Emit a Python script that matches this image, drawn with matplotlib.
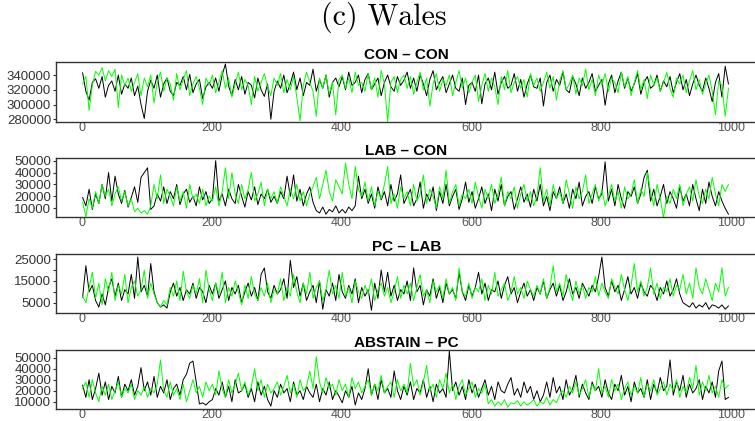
import numpy as np
import matplotlib
matplotlib.use('Agg')
from matplotlib import pyplot as plt

# trace values, in thousands, one value every 5 iterations
iterations = np.arange(1, 1001, 5)

con_con_black_k = [
    343, 318, 306, 330, 335, 322, 338, 310, 326, 332, 318, 340, 314, 328, 322, 336, 312, 325, 300, 281,
    318, 333, 322, 340, 310, 328, 336, 318, 312, 330, 326, 338, 320, 341, 316, 328, 334, 308, 324, 330,
    322, 336, 318, 340, 355, 325, 312, 334, 320, 338, 314, 330, 326, 309, 336, 320, 311, 328, 280, 318,
    332, 322, 340, 316, 328, 344, 320, 336, 312, 330, 326, 348, 318, 334, 322, 340, 310, 330, 336, 324,
    338, 320, 344, 326, 330, 340, 316, 334, 342, 320, 328, 336, 312, 330, 340, 324, 318, 338, 326, 333,
    344, 322, 336, 318, 340, 328, 312, 334, 346, 320, 330, 338, 316, 328, 340, 322, 318, 336, 300, 326,
    330, 318, 340, 301, 328, 336, 320, 344, 314, 330, 338, 322, 326, 342, 318, 334, 310, 328, 340, 324,
    322, 336, 298, 330, 340, 318, 334, 326, 344, 320, 316, 338, 328, 312, 336, 322, 330, 342, 318, 326,
    334, 299, 328, 340, 316, 332, 344, 322, 336, 318, 328, 342, 314, 330, 338, 322, 326, 340, 318, 332,
    324, 338, 316, 330, 342, 320, 334, 312, 328, 340, 326, 318, 336, 322, 304, 330, 342, 310, 352, 328]
con_con_green_k = [
    328, 338, 292, 326, 345, 340, 350, 332, 346, 338, 348, 296, 340, 326, 336, 318, 330, 342, 312, 336,
    324, 340, 302, 330, 344, 318, 336, 328, 306, 342, 320, 334, 346, 312, 328, 338, 322, 300, 336, 326,
    340, 316, 330, 346, 322, 336, 310, 328, 344, 320, 334, 326, 300, 338, 318, 330, 342, 324, 312, 336,
    326, 342, 316, 334, 320, 338, 310, 278, 326, 344, 330, 318, 284, 336, 322, 340, 314, 330, 286, 334,
    340, 322, 336, 316, 344, 326, 330, 318, 342, 320, 336, 310, 346, 328, 277, 330, 338, 316, 334, 340,
    322, 338, 314, 330, 344, 320, 336, 298, 328, 342, 318, 334, 326, 340, 312, 330, 346, 322, 336, 316,
    330, 340, 304, 326, 342, 318, 336, 324, 300, 338, 320, 346, 316, 330, 338, 322, 334, 310, 342, 326,
    336, 318, 330, 344, 322, 338, 306, 332, 346, 320, 328, 340, 314, 336, 326, 348, 320, 334, 312, 340,
    326, 342, 318, 336, 330, 316, 344, 324, 338, 312, 330, 346, 320, 334, 308, 340, 326, 336, 318, 330,
    344, 322, 310, 336, 328, 340, 316, 332, 346, 320, 334, 314, 328, 340, 318, 286, 332, 326, 284, 322]

lab_con_black_k = [
    19, 12, 26, 9, 22, 14, 30, 18, 40, 16, 37, 22, 14, 25, 11, 19, 28, 15, 36, 40,
    44, 9, 12, 22, 16, 28, 14, 24, 18, 30, 13, 22, 26, 15, 20, 12, 28, 17, 24, 14,
    18, 50, 16, 22, 12, 26, 18, 14, 30, 20, 11, 24, 17, 28, 13, 22, 18, 26, 15, 20,
    14, 24, 18, 37, 20, 38, 16, 26, 12, 22, 28, 15, 8, 6, 11, 5, 9, 7, 12, 6,
    9, 6, 11, 8, 12, 37, 18, 26, 14, 22, 10, 28, 17, 24, 12, 30, 16, 22, 38, 14,
    20, 26, 12, 18, 32, 10, 22, 16, 28, 8, 24, 14, 30, 12, 20, 26, 9, 18, 32, 15,
    24, 10, 18, 28, 14, 22, 8, 26, 16, 30, 12, 20, 24, 9, 18, 28, 15, 22, 11, 26,
    16, 30, 12, 20, 8, 24, 18, 28, 14, 22, 10, 26, 18, 32, 12, 20, 24, 14, 28, 18,
    22, 49, 16, 26, 12, 30, 18, 10, 24, 20, 28, 14, 22, 36, 42, 16, 26, 12, 20, 30,
    14, 24, 18, 10, 28, 16, 22, 12, 30, 18, 8, 26, 14, 32, 20, 12, 24, 16, 10, 5]
lab_con_green_k = [
    15, 3, 18, 10, 24, 14, 30, 20, 26, 12, 22, 28, 16, 24, 12, 18, 7, 10, 6, 8,
    5, 12, 30, 18, 38, 14, 26, 20, 12, 28, 16, 24, 10, 30, 18, 22, 14, 26, 12, 20,
    16, 28, 12, 24, 44, 18, 40, 22, 14, 30, 18, 26, 40, 16, 22, 32, 12, 26, 18, 24,
    14, 28, 20, 12, 26, 18, 30, 16, 24, 12, 22, 28, 36, 18, 30, 42, 24, 16, 34, 28,
    22, 48, 30, 18, 45, 26, 20, 32, 16, 28, 12, 24, 18, 30, 45, 14, 22, 10, 28, 18,
    24, 12, 30, 16, 22, 38, 14, 26, 20, 10, 28, 18, 42, 14, 24, 30, 12, 22, 18, 26,
    14, 32, 20, 10, 26, 18, 30, 14, 22, 36, 12, 24, 18, 28, 10, 22, 30, 16, 24, 12,
    20, 44, 16, 26, 12, 30, 18, 24, 14, 34, 22, 10, 28, 18, 24, 38, 14, 22, 30, 16,
    26, 12, 20, 30, 16, 24, 10, 28, 18, 22, 34, 14, 26, 20, 40, 24, 12, 30, 18, 2,
    20, 14, 26, 18, 30, 12, 22, 28, 16, 34, 20, 14, 26, 18, 36, 22, 12, 30, 24, 30]

pc_lab_black_k = [
    7.5, 22, 10, 13, 6, 3, 9, 4, 12, 16, 8, 14, 6, 11, 9, 18, 7, 26, 10, 13,
    8, 23, 10, 5, 3, 4, 2.5, 10, 14, 8, 12, 6, 11, 9, 14, 7, 12, 10, 5, 13,
    9, 14, 7, 11, 15, 6, 12, 9, 13, 5, 10, 14, 8, 12, 6, 18, 21, 10, 7, 13,
    9, 11, 16, 7, 24.5, 12, 17, 8, 14, 6, 10, 13, 5, 15, 2, 11, 8, 14, 6, 18,
    10, 7, 13, 9, 16, 5, 12, 8, 11, 1.5, 14, 7, 20, 10, 19, 8, 13, 6, 11, 9,
    15, 6, 21, 10, 13, 4, 11, 8, 16, 7, 12, 5, 14, 9, 11, 7, 19, 10, 6, 13,
    8, 12, 19, 9, 14, 6, 11, 10, 15, 7, 13, 17, 9, 12, 5, 10, 14, 8, 11, 6,
    12, 9, 15, 7, 11, 14, 8, 13, 6, 10, 16, 9, 12, 7, 14, 11, 8, 13, 10, 17,
    26, 12, 8, 15, 10, 13, 6, 11, 17, 9, 12, 7, 14, 10, 8, 13, 11, 6, 12, 9,
    15, 8, 11, 16, 9, 5, 4, 3, 5, 2.5, 4, 3, 5, 2, 4, 3.5, 2.5, 4, 2, 3.5]
pc_lab_green_k = [
    8, 5, 12, 19, 7, 14, 4, 16, 10, 19, 6, 13, 9, 18, 5, 12, 15, 8, 11, 20,
    7, 14, 9, 5, 3, 6, 4, 12, 8, 15, 6, 19.5, 10, 7, 13, 9, 16, 5, 20, 11,
    6, 14, 9, 19, 5, 12, 8, 15, 10, 4, 13, 7, 17, 9, 6, 12, 8, 14, 5, 11,
    9, 16, 6, 12, 8, 18, 10, 5, 14, 9, 19, 7, 12, 15, 6, 11, 20, 9, 13, 7,
    19, 8, 12, 5, 15, 10, 7, 13, 9, 16, 6, 11, 14, 8, 12, 5, 10, 17, 7, 13,
    9, 14, 6, 12, 18, 8, 11, 5, 15, 10, 13, 7, 16, 9, 12, 6, 21, 10, 8, 14,
    7, 12, 10, 16, 6, 13, 9, 19, 8, 11, 14, 6, 10, 17, 9, 12, 7, 15, 11, 8,
    13, 9, 16, 7, 12, 22, 10, 14, 8, 18, 11, 6, 15, 9, 13, 7, 12, 10, 17, 8,
    14, 10, 7, 16, 12, 9, 18, 11, 6, 13, 23, 10, 15, 8, 12, 21, 9, 14, 7, 12,
    10, 16, 8, 13, 11, 18, 9, 14, 7, 21, 12, 9, 16, 11, 6, 14, 10, 21, 8, 12]

abstain_pc_black_k = [
    25, 14, 30, 12, 22, 36, 16, 28, 12, 24, 18, 33, 14, 26, 20, 30, 16, 24, 41, 20,
    28, 16, 33, 14, 24, 18, 30, 12, 22, 26, 16, 30, 35, 45, 47, 28, 8, 9, 7, 10,
    12, 22, 16, 28, 14, 24, 10, 30, 18, 20, 26, 14, 22, 10, 28, 16, 24, 12, 6, 20,
    14, 26, 18, 22, 10, 28, 16, 20, 12, 24, 18, 14, 26, 10, 22, 16, 28, 12, 20, 15,
    9, 20, 14, 24, 7, 18, 12, 22, 40, 16, 26, 12, 30, 18, 22, 14, 38, 20, 12, 24,
    16, 28, 12, 22, 18, 30, 14, 24, 10, 26, 18, 22, 14, 56, 20, 28, 16, 24, 12, 30,
    18, 26, 14, 22, 30, 16, 24, 12, 28, 20, 18, 26, 32, 16, 22, 14, 28, 18, 24, 12,
    20, 10, 16, 28, 14, 32, 18, 24, 12, 30, 16, 22, 34, 14, 26, 18, 12, 28, 20, 24,
    14, 30, 18, 12, 26, 20, 34, 16, 24, 10, 28, 18, 22, 14, 30, 12, 26, 18, 32, 20,
    24, 48, 16, 28, 20, 34, 14, 26, 18, 22, 30, 12, 24, 18, 28, 14, 38, 47, 12, 14]
abstain_pc_green_k = [
    22, 28, 14, 30, 18, 10, 24, 16, 26, 12, 20, 28, 14, 22, 18, 26, 12, 20, 16, 24,
    14, 22, 18, 26, 48, 20, 14, 28, 16, 22, 12, 26, 10, 20, 30, 18, 24, 14, 28, 20,
    26, 16, 38, 22, 14, 30, 18, 26, 36, 20, 28, 16, 24, 40, 20, 30, 14, 26, 18, 22,
    28, 16, 24, 34, 18, 26, 14, 30, 20, 24, 38, 22, 51, 28, 18, 32, 22, 26, 16, 30,
    20, 26, 14, 32, 22, 28, 18, 24, 30, 16, 26, 20, 34, 18, 24, 28, 14, 30, 20, 26,
    18, 45, 24, 30, 16, 28, 43, 20, 26, 14, 30, 22, 36, 18, 26, 12, 24, 30, 16, 22,
    28, 14, 22, 18, 26, 8, 12, 6, 10, 7, 12, 5, 9, 8, 11, 6, 10, 7, 9, 12,
    6, 10, 8, 14, 7, 12, 9, 16, 20, 14, 24, 18, 28, 16, 22, 30, 14, 26, 20, 40,
    18, 24, 14, 30, 20, 26, 12, 22, 28, 16, 24, 18, 32, 14, 26, 20, 30, 16, 22, 28,
    16, 26, 20, 30, 14, 24, 18, 32, 22, 43, 16, 28, 20, 34, 18, 24, 14, 30, 22, 25]

titles = ['CON \u2013 CON', 'LAB \u2013 CON', 'PC \u2013 LAB', 'ABSTAIN \u2013 PC']
series = [(con_con_black_k, con_con_green_k),
          (lab_con_black_k, lab_con_green_k),
          (pc_lab_black_k, pc_lab_green_k),
          (abstain_pc_black_k, abstain_pc_green_k)]
yticks = [[280000, 300000, 320000, 340000],
          [10000, 20000, 30000, 40000, 50000],
          [5000, 10000, 15000, 20000, 25000],
          [10000, 20000, 30000, 40000, 50000]]
ytick_labels = [['280000', '300000', '320000', '340000'],
                ['10000', '20000', '30000', '40000', '50000'],
                ['5000', '', '15000', '', '25000'],
                ['10000', '20000', '30000', '40000', '50000']]
ylims = [(276300, 357700), (2900, 52000), (400, 27400), (3400, 57300)]

# axes boxes in pixels: (top, bottom)
W, H = 755, 421
boxes = [(62, 122), (158.3, 216.7), (254, 312.7), (349.7, 409)]
left_px, right_px = 56, 757

plt.rcParams['font.family'] = ['Liberation Sans', 'DejaVu Sans']

fig = plt.figure(figsize=(W / 100, H / 100), dpi=100)
fig.text(384 / W, 1 - 17 / H, '(c) Wales', ha='center', va='center',
         fontsize=21.5, family='cmr10')

for i in range(4):
    top, bot = boxes[i]
    ax = fig.add_axes([left_px / W, 1 - bot / H, (right_px - left_px) / W, (bot - top) / H])
    black, green = series[i]
    ax.plot(iterations, np.array(black) * 1000, color='black', lw=0.7)
    ax.plot(iterations, np.array(green) * 1000, color='#00ff00', lw=0.7)
    ax.set_xlim(-40, 1040)
    ax.set_ylim(*ylims[i])
    ax.set_xticks([0, 200, 400, 600, 800, 1000])
    ax.set_yticks(yticks[i])
    ax.set_yticklabels(ytick_labels[i])
    ax.tick_params(axis='x', length=0, pad=0, labelsize=9, labelcolor='#555555')
    ax.tick_params(axis='y', length=2.5, width=0.8, pad=1, labelsize=9.5,
                   labelcolor='#333333', color='#333333')
    for s in ['top', 'bottom', 'left']:
        ax.spines[s].set_color('#333333')
        ax.spines[s].set_linewidth(1.0)
    ax.spines['right'].set_visible(False)
    ax.set_title(titles[i], fontsize=11, fontweight='bold', pad=2)

fig.savefig('out.png', dpi=100)
